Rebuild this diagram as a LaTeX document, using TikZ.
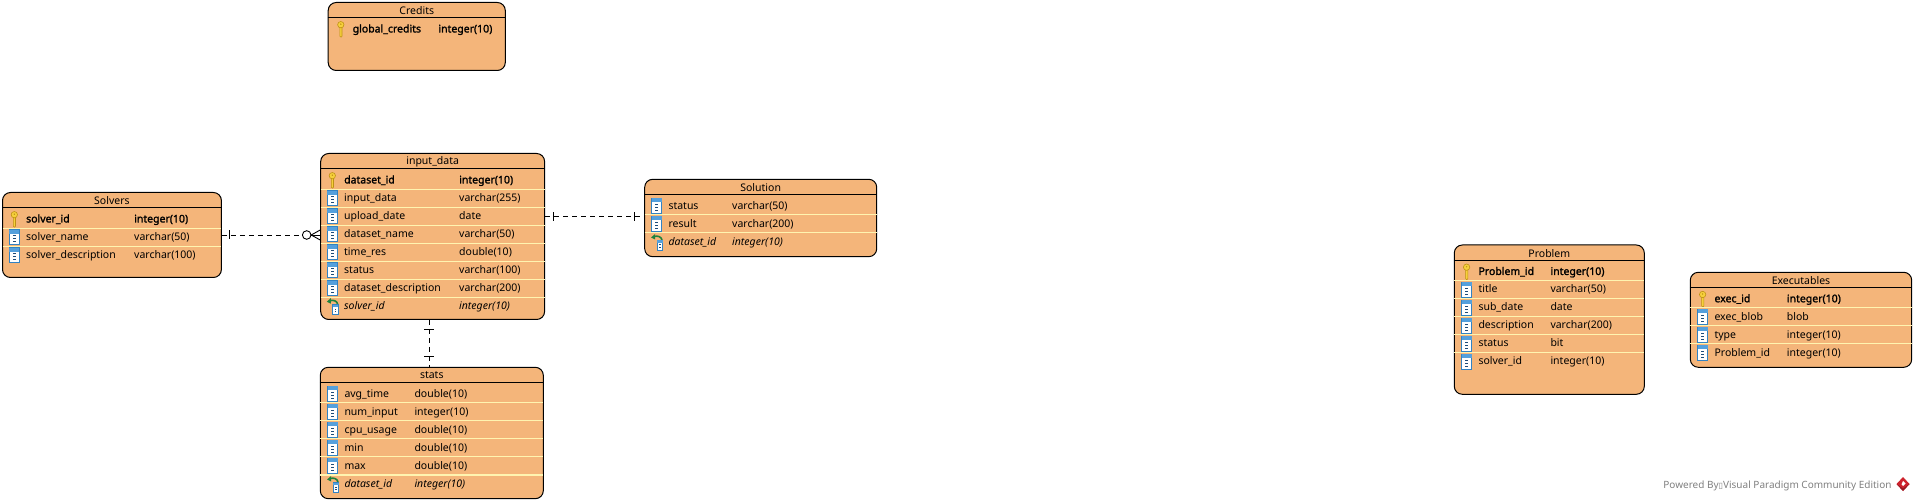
\documentclass[tikz,border=0pt]{standalone}
\usepackage{fontspec}
\setmainfont{Noto Sans}
\newfontfamily\symfont{DejaVu Sans}
\newfontfamily\keyfont[FakeBold=1.6]{Noto Sans}
\usetikzlibrary{calc}

\definecolor{erfill}{RGB}{244,181,122}
\definecolor{erline}{RGB}{255,244,176}
\definecolor{colblue}{RGB}{50,130,195}
\definecolor{colband}{RGB}{85,160,220}
\definecolor{coldark}{RGB}{30,75,120}
\definecolor{keyyellow}{RGB}{246,208,60}
\definecolor{keyedge}{RGB}{190,145,20}
\definecolor{fkgreen}{RGB}{30,130,60}
\definecolor{logored}{RGB}{205,35,45}
\definecolor{logodark}{RGB}{150,25,35}

\tikzset{
    erbox/.style={draw=black, fill=erfill, line width=1pt, rounded corners=8pt, inner sep=0pt},
    ertitle/.style={inner sep=0pt, font=\fontsize{10.5}{12}\selectfont},
    ertext/.style={anchor=west, inner sep=0pt, text height=8pt, text depth=1.5pt, font=\fontsize{10.5}{12}\selectfont},
    keyicon text/.style={font=\keyfont\fontsize{10.5}{12}\selectfont},
    colicon text/.style={},
    fkicon text/.style={font=\fontsize{10.5}{12}\selectfont\itshape},
    rowsep/.style={draw=erline, line width=1pt, shorten >=0.5pt, shorten <=0.5pt},
    rel/.style={line width=0.9pt, dash pattern=on 5pt off 4pt},
    relbar/.style={line width=0.9pt},
    keyicon/.pic={
        \draw[keyedge, fill=keyyellow, line width=0.6pt] (-1,-2) -- (-1,7) -- (0.3,8) -- (1.2,7) -- (1.2,-2);
        \draw[keyedge, fill=keyyellow, line width=0.6pt] (0,-4.5) circle (3.2);
        \fill[keyedge] (0,-5) circle (0.8);
    },
    colicon/.pic={
        \draw[colblue, fill=white, line width=0.8pt] (-5,-7.5) rectangle (5,7.5);
        \fill[colband] (-5,-7.5) rectangle (5,-3.5);
        \foreach \d in {-1.5,1.5,4.5}
        {
            \fill[coldark] (-1.5,\d-0.5) rectangle (1.5,\d+0.5);
        }
    },
    fkicon/.pic={
        \draw[fkgreen, line width=1.6pt] (5.5,-1.5) .. controls (5,-5.5) and (1,-6.5) .. (-2.5,-5.5);
        \fill[fkgreen] (-5.5,-4.5) -- (-1.5,-8) -- (-1.5,-2.5) -- cycle;
        \draw[colblue, fill=white, line width=0.7pt] (0.5,-1.5) rectangle (6,8);
        \fill[colband] (0.5,-1.5) rectangle (6,1);
        \fill[coldark] (2.5,2.5) rectangle (4,3.5);
        \fill[coldark] (2.5,5) rectangle (4,6);
    },
}

% #1 name, #2 title, #3-#6 left top right bottom, #7 name column, #8 type column, #9 rows
\newcommand{\ertable}[9]{
    \pgfmathsetmacro{\boxw}{#5-#3}
    \pgfmathsetmacro{\boxh}{#6-#4}
    \node[erbox, minimum width=\boxw pt, minimum height=\boxh pt] (#1) at ({(#3+#5)/2},{(#4+#6)/2}) {};
    \node[ertitle] (#1-title) at ([yshift=-8.7pt]#1.north) {#2};
    \draw[line width=1pt] ([yshift=-16pt]#1.north west) -- ([yshift=-16pt]#1.north east);
    \foreach \icon/\fld/\typ [count=\i from 0] in {#9}
    {
        \pgfmathsetmacro{\rowy}{#4+26.7+18*\i}
        \ifnum\i>0
            \draw[rowsep] (#1.west |- 0,\rowy-9) -- (#1.east |- 0,\rowy-9);
        \fi
        \pic at (#7-11.7,\rowy) {\icon};
        \node[ertext, \icon\space text] (#1-name-\i) at (#7,\rowy) {\fld};
        \node[ertext, \icon\space text] (#1-type-\i) at (#8,\rowy) {\typ};
    }
}

\begin{document}
\begin{tikzpicture}[x=1pt, y=-1pt]
    \useasboundingbox (0,0) rectangle (1915,502);
    % Tables
    \ertable{credits}{Credits}{328.2}{2.5}{505.3}{70.5}{352.5}{438.2}{
        keyicon/global\_credits/integer(10)}
    \ertable{input_data}{input\_data}{320.7}{153.5}{544.6}{319.5}{344}{459}{
        keyicon/dataset\_id/integer(10),
        colicon/input\_data/varchar(255),
        colicon/upload\_date/date,
        colicon/dataset\_name/varchar(50),
        colicon/time\_res/double(10),
        colicon/status/varchar(100),
        colicon/dataset\_description/varchar(200),
        fkicon/solver\_id/integer(10)}
    \ertable{solvers}{Solvers}{2.5}{192.5}{221.4}{277.5}{26}{134}{
        keyicon/solver\_id/integer(10),
        colicon/solver\_name/varchar(50),
        colicon/solver\_description/varchar(100)}
    \ertable{solution}{Solution}{644.7}{179.3}{876.7}{256.7}{668.3}{732}{
        colicon/status/varchar(50),
        colicon/result/varchar(200),
        fkicon/dataset\_id/integer(10)}
    \ertable{stats}{stats}{320.3}{367.3}{543.3}{498.7}{344.3}{414.3}{
        colicon/avg\_time/double(10),
        colicon/num\_input/integer(10),
        colicon/cpu\_usage/double(10),
        colicon/min/double(10),
        colicon/max/double(10),
        fkicon/dataset\_id/integer(10)}
    \ertable{problem}{Problem}{1454.3}{245}{1644.3}{394.3}{1478.3}{1550.3}{
        keyicon/Problem\_id/integer(10),
        colicon/title/varchar(50),
        colicon/sub\_date/date,
        colicon/description/varchar(200),
        colicon/status/bit,
        colicon/solver\_id/integer(10)}
    \ertable{executables}{Executables}{1690.3}{272.3}{1911.7}{367.3}{1714.3}{1786.7}{
        keyicon/exec\_id/integer(10),
        colicon/exec\_blob/blob,
        colicon/type/integer(10),
        colicon/Problem\_id/integer(10)}

    % Solvers to input_data
    \draw[rel] (solvers.east) -- (solvers.east -| input_data.west);
    \draw[relbar] ([xshift=8pt,yshift=4.5pt]solvers.east) -- ([xshift=8pt,yshift=-4.5pt]solvers.east);
    \coordinate (foot) at (solvers.east -| input_data.west);
    \draw[relbar, fill=white] ($(foot)+(-13.5,0)$) circle (4.3);
    \draw[relbar] ($(foot)+(-9,0)$) -- ($(foot)+(0,-5)$);
    \draw[relbar] ($(foot)+(-9,0)$) -- ($(foot)+(0,5)$);
    \draw[relbar] ($(foot)+(-9,0)$) -- (foot);

    % input_data to Solution
    \coordinate (solend) at ([yshift=1.3pt]solution.west);
    \draw[rel] (solend -| input_data.east) -- (solend);
    \draw[relbar] ($(solend -| input_data.east)+(8,-4.5)$) -- ($(solend -| input_data.east)+(8,4.5)$);
    \draw[relbar] ($(solend)+(-10,-4.5)$) -- ($(solend)+(-10,4.5)$);

    % input_data to stats
    \coordinate (statend) at ([xshift=-2.5pt]stats.north);
    \draw[rel] (statend |- input_data.south) -- (statend);
    \draw[relbar] ($(statend |- input_data.south)+(-5,9)$) -- ($(statend |- input_data.south)+(5,9)$);
    \draw[relbar] ($(statend)+(-5,-10)$) -- ($(statend)+(5,-10)$);

    % Footer
    \node[inner sep=0pt, anchor=east, text=black!50, font=\fontsize{10}{12}\selectfont] (footer) at (1891.7,485.5)
        {Powered By{\symfont\fontsize{8}{9}\selectfont ▯}Visual Paradigm Community Edition};
    \fill[logored] (1903,477) -- (1909.5,484) -- (1903,491) -- (1896.5,484) -- cycle;
    \fill[logodark] (1896.5,484) -- (1903,491) -- (1909.5,484) -- (1903,488.5) -- cycle;
    \fill[white] (1903,481) -- (1905.5,483.5) -- (1903,486) -- (1901.5,484.5) -- cycle;
\end{tikzpicture}
\end{document}
